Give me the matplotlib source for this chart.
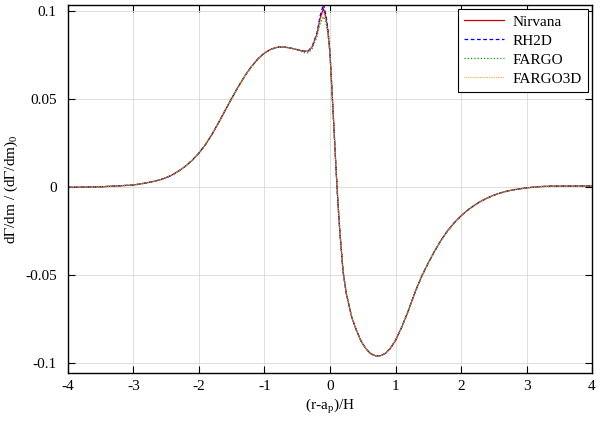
import matplotlib
matplotlib.use("Agg")
import matplotlib.pyplot as plt

plt.rcParams['font.family'] = ['Liberation Serif', 'DejaVu Serif']
plt.rcParams['mathtext.fontset'] = 'stix'

# radial offset (r-a_p)/H
x = [-4.0, -3.5, -3.0, -2.8, -2.6, -2.5, -2.4, -2.3, -2.2, -2.1, -2.0, -1.9,
     -1.8, -1.7, -1.6, -1.5, -1.4, -1.3, -1.2, -1.1, -1.0, -0.9, -0.8, -0.7,
     -0.6, -0.5, -0.4, -0.33, -0.27, -0.2, -0.15, -0.1, -0.06, -0.03, 0.0,
     0.03, 0.06, 0.09, 0.12, 0.15, 0.2, 0.25, 0.33, 0.4, 0.48, 0.55, 0.62,
     0.7, 0.78, 0.85, 0.92, 1.0, 1.1, 1.2, 1.3, 1.4, 1.5, 1.6, 1.7, 1.8, 1.9,
     2.0, 2.1, 2.2, 2.3, 2.4, 2.5, 2.6, 2.7, 2.8, 3.0, 3.2, 3.4, 4.0]

# normalised torque density, Nirvana
nirvana = [0.0, 0.0003, 0.0013, 0.0025, 0.0042, 0.0055, 0.0072, 0.0095,
           0.0122, 0.0155, 0.0195, 0.0243, 0.0302, 0.0368, 0.0437, 0.0506,
           0.0572, 0.0633, 0.0686, 0.0730, 0.0763, 0.0785, 0.0796, 0.0797,
           0.0791, 0.0782, 0.0773, 0.0774, 0.0800, 0.0870, 0.0960, 0.1015,
           0.0960, 0.0880, 0.0760, 0.0550, 0.0340, 0.0120, -0.0080, -0.0250,
           -0.0480, -0.0605, -0.0735, -0.0810, -0.0878, -0.0918, -0.0945,
           -0.0958, -0.0956, -0.0942, -0.0915, -0.0870, -0.0790, -0.0697,
           -0.0594, -0.0505, -0.0430, -0.0360, -0.0298, -0.0245, -0.0200,
           -0.0162, -0.0130, -0.0103, -0.0080, -0.0061, -0.0045, -0.0032,
           -0.0022, -0.0014, -0.0003, 0.0004, 0.0007, 0.0008]

# the other codes differ only near the corotation peak (x = -0.4 .. -0.03)
peak_x = [-0.4, -0.33, -0.27, -0.2, -0.15, -0.1, -0.06, -0.03]
rh2d_peak = [0.0773, 0.0774, 0.0802, 0.0875, 0.0975, 0.1040, 0.0975, 0.0890]
fargo_peak = [0.0765, 0.0764, 0.0790, 0.0855, 0.0930, 0.0970, 0.0935, 0.0860]
fargo3d_peak = [0.0770, 0.0771, 0.0798, 0.0865, 0.0950, 0.1000, 0.0950, 0.0875]


def with_peak(vals):
    y = list(nirvana)
    for px, v in zip(peak_x, vals):
        y[x.index(px)] = v
    return y


rh2d = with_peak(rh2d_peak)
fargo = with_peak(fargo_peak)
fargo3d = with_peak(fargo3d_peak)

fig = plt.figure(figsize=(6, 4.22), dpi=100)
ax = fig.add_axes([0.1133, 0.1161, 0.8734, 0.8721])

ax.plot(x, nirvana, color='#cc0000', lw=0.9, ls='-', label='Nirvana')
ax.plot(x, rh2d, color='#0000ee', lw=0.9, ls=(0, (3, 2)), label='RH2D')
ax.plot(x, fargo, color='#009900', lw=0.9, ls=(0, (1, 1.6)), label='FARGO')
ax.plot(x, fargo3d, color='#ff9933', lw=0.9, ls=(0, (0.6, 0.8)), label='FARGO3D')

ax.set_xlim(-4, 4)
ax.set_ylim(-0.1055, 0.1036)
ax.set_xticks([-4, -3, -2, -1, 0, 1, 2, 3, 4])
ax.set_xticklabels(['-4', '-3', '-2', '-1', '0', '1', '2', '3', '4'])
ax.set_yticks([-0.1, -0.05, 0, 0.05, 0.1])
ax.set_yticklabels(['-0.1', '-0.05', '0', '0.05', '0.1'])
ax.tick_params(direction='in', top=True, right=True, length=5, width=0.8,
               labelsize=11)
ax.tick_params(axis='x', pad=5)
ax.tick_params(axis='y', pad=8)
ax.grid(True, color='#dddddd', lw=0.7)
ax.set_axisbelow(True)
for s in ax.spines.values():
    s.set_linewidth(1.0)

ax.set_xlabel(r'(r-a$_\mathregular{p}$)/H', fontsize=11, labelpad=3)
ax.set_ylabel(r'd$\Gamma$/dm / (d$\Gamma$/dm)$_\mathregular{0}$', fontsize=11,
              labelpad=4)

leg = ax.legend(loc='upper right', fontsize=11, fancybox=False, framealpha=1,
                edgecolor='black', handlelength=2.6, handletextpad=0.6,
                labelspacing=0.35, borderaxespad=0.25, borderpad=0.4)
leg.get_frame().set_linewidth(0.8)

fig.savefig('out.png', dpi=100)
